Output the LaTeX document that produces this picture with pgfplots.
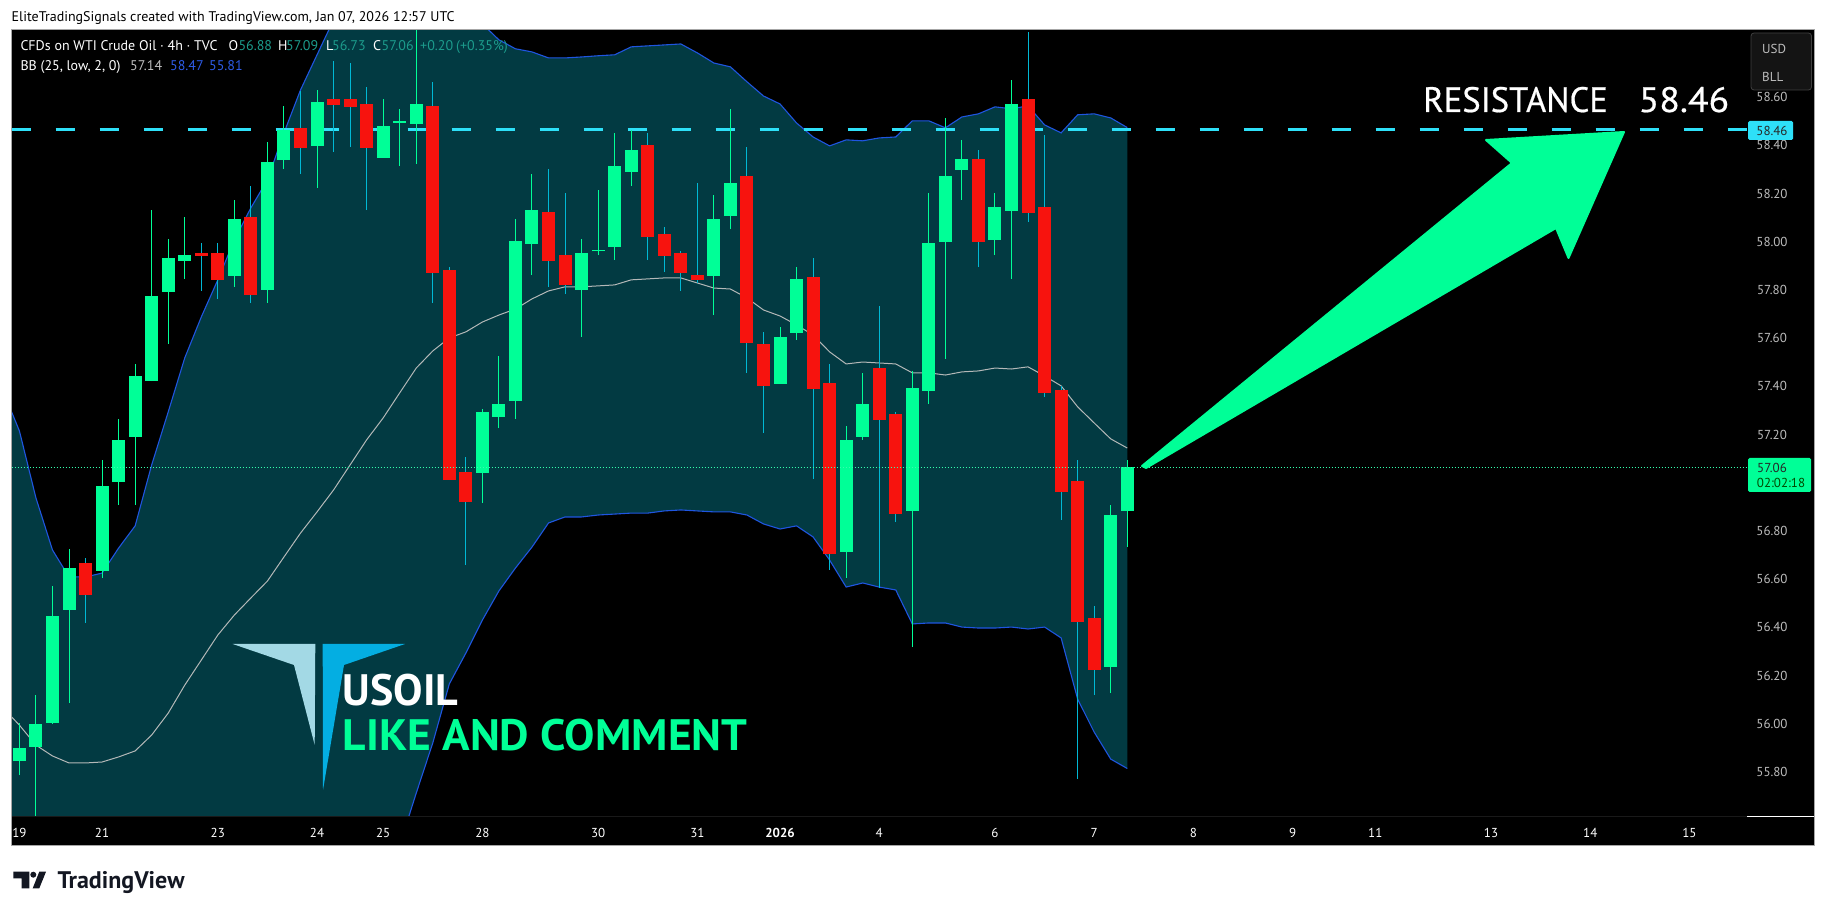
\documentclass[border=0pt]{standalone}
\usepackage{pgfplots}
\usepackage{pgfplotstable}
\usepackage{fontspec}
\pgfplotsset{compat=1.18}
\setmainfont{PT Sans}
\newfontfamily\medf[FakeBold=0.6]{PT Sans}
\newcommand\fs[1]{\fontsize{#1}{#1}\selectfont}
\definecolor{tvgreen}{HTML}{00FF97}
\definecolor{tvred}{HTML}{F7130E}
\definecolor{wickred}{HTML}{00B8D4}
\definecolor{bandfill}{HTML}{023A42}
\definecolor{bandline}{HTML}{1F55E0}
\definecolor{midline}{HTML}{B4B8B8}
\definecolor{rescyan}{HTML}{2EE0F8}
\definecolor{ticktext}{HTML}{BDBDBD}
\definecolor{legteal}{HTML}{1C9C8C}
\definecolor{legblue}{HTML}{2E5CE8}
\definecolor{logolight}{HTML}{A3D9E5}
\definecolor{logodark}{HTML}{04AEE2}
\definecolor{tvink}{HTML}{131722}
\pgfplotstableread{
i o h l c
0 55.841 55.999 55.783 55.895
1 55.899 56.115 55.613 55.995
2 55.999 56.567 55.995 56.443
3 56.468 56.721 56.082 56.642
5 56.630 57.090 56.601 56.983
6 56.999 57.261 56.904 57.174
7 57.186 57.489 56.904 57.439
8 57.418 58.128 57.418 57.771
9 57.788 58.008 57.572 57.929
10 57.917 58.099 57.842 57.941
13 57.854 58.170 57.809 58.091
15 57.796 58.411 57.742 58.328
16 58.336 58.560 58.298 58.460
18 58.394 58.626 58.220 58.577
22 58.344 58.589 58.344 58.477
23 58.491 58.548 58.311 58.498
24 58.485 58.875 58.319 58.568
28 57.037 57.302 56.912 57.290
29 57.269 57.522 57.223 57.323
30 57.335 58.091 57.261 58.000
31 57.987 58.278 57.858 58.128
34 57.796 58.008 57.601 57.950
35 57.956 58.211 57.941 57.960
36 57.975 58.448 57.921 58.311
37 58.286 58.460 58.228 58.377
42 57.854 58.191 57.692 58.091
43 58.103 58.548 58.049 58.240
46 57.406 57.643 57.406 57.601
47 57.618 57.892 57.589 57.842
50 56.709 57.232 56.601 57.174
51 57.186 57.452 57.174 57.323
54 56.879 57.460 56.314 57.389
55 57.377 58.199 57.323 57.991
56 57.995 58.510 57.510 58.269
57 58.294 58.419 58.170 58.340
59 58.004 58.199 57.941 58.141
60 58.124 58.668 57.842 58.568
66 56.231 56.904 56.123 56.862
67 56.88 57.09 56.73 57.06
}\greenT
\pgfplotstableread{
i o h l c
4 56.663 56.684 56.414 56.530
11 57.950 57.991 57.792 57.937
12 57.950 57.991 57.759 57.838
14 58.099 58.228 57.742 57.775
17 58.469 58.622 58.278 58.386
19 58.589 58.747 58.369 58.564
20 58.589 58.738 58.390 58.556
21 58.568 58.639 58.128 58.386
25 58.560 58.660 57.742 57.867
26 57.879 57.892 57.007 57.007
27 57.041 57.103 56.655 56.916
32 58.120 58.298 57.809 57.917
33 57.941 58.199 57.780 57.817
38 58.398 58.448 57.921 58.016
39 58.029 58.058 57.871 57.937
40 57.950 57.958 57.792 57.867
41 57.858 58.240 57.825 57.838
44 58.269 58.390 57.452 57.576
45 57.572 57.622 57.203 57.398
48 57.850 57.929 57.012 57.385
49 57.410 57.489 56.634 56.700
52 57.472 57.730 56.559 57.257
53 57.281 57.290 56.833 56.866
58 58.340 58.377 57.892 57.995
61 58.589 58.867 58.078 58.116
62 58.141 58.440 57.352 57.369
63 57.381 57.398 56.841 56.958
64 57.003 57.090 55.766 56.418
65 56.435 56.484 56.115 56.219
}\redT
\pgfplotstableread{
i u m d
-0.47 57.290 56.024 54.683
0 57.211 55.990 54.766
1 56.933 55.907 54.890
2 56.717 55.862 55.015
3 56.605 55.833 55.056
4 56.605 55.833 55.056
5 56.621 55.837 55.056
6 56.725 55.858 54.994
7 56.817 55.883 54.953
8 57.070 55.949 54.828
9 57.290 56.040 54.787
10 57.514 56.156 54.800
11 57.684 56.260 54.828
12 57.838 56.364 54.890
13 58.004 56.447 54.890
14 58.137 56.518 54.890
15 58.253 56.588 54.911
16 58.448 56.688 54.932
17 58.626 56.787 54.953
18 58.772 56.875 54.973
19 58.917 56.966 55.015
20 58.979 57.070 55.139
21 59.021 57.174 55.264
22 59.040 57.265 55.389
23 59.040 57.369 55.492
24 59.030 57.472 55.708
25 59.010 57.543 55.916
26 58.980 57.597 56.161
27 58.940 57.622 56.289
28 58.900 57.663 56.426
29 58.834 57.692 56.547
30 58.797 57.717 56.642
31 58.784 57.759 56.729
32 58.759 57.792 56.829
33 58.759 57.809 56.854
34 58.763 57.809 56.854
35 58.768 57.813 56.862
36 58.772 57.817 56.866
37 58.805 57.838 56.870
38 58.809 57.842 56.870
39 58.813 57.846 56.879
40 58.817 57.846 56.883
41 58.780 57.825 56.879
42 58.738 57.804 56.875
43 58.722 57.800 56.875
44 58.660 57.763 56.862
45 58.601 57.713 56.825
46 58.568 57.688 56.804
47 58.489 57.651 56.817
48 58.431 57.609 56.771
49 58.394 57.539 56.675
50 58.419 57.489 56.563
51 58.415 57.497 56.580
52 58.427 57.493 56.563
53 58.431 57.489 56.551
54 58.498 57.452 56.410
55 58.498 57.452 56.414
56 58.469 57.443 56.414
57 58.514 57.456 56.397
58 58.527 57.460 56.393
59 58.556 57.472 56.393
60 58.548 57.468 56.397
61 58.560 57.477 56.389
62 58.481 57.439 56.397
63 58.448 57.398 56.352
64 58.523 57.311 56.098
65 58.527 57.244 55.961
66 58.510 57.178 55.849
67 58.47 57.14 55.81
}\bandT
% outline of the band, upper edge then lower edge back
\pgfplotstableread{
x y
-0.47 57.290
0 57.211
1 56.933
2 56.717
3 56.605
4 56.605
5 56.621
6 56.725
7 56.817
8 57.070
9 57.290
10 57.514
11 57.684
12 57.838
13 58.004
14 58.137
15 58.253
16 58.448
17 58.626
18 58.772
19 58.917
20 58.979
21 59.021
22 59.040
23 59.040
24 59.030
25 59.010
26 58.980
27 58.940
28 58.900
29 58.834
30 58.797
31 58.784
32 58.759
33 58.759
34 58.763
35 58.768
36 58.772
37 58.805
38 58.809
39 58.813
40 58.817
41 58.780
42 58.738
43 58.722
44 58.660
45 58.601
46 58.568
47 58.489
48 58.431
49 58.394
50 58.419
51 58.415
52 58.427
53 58.431
54 58.498
55 58.498
56 58.469
57 58.514
58 58.527
59 58.556
60 58.548
61 58.560
62 58.481
63 58.448
64 58.523
65 58.527
66 58.510
67 58.47
67 55.81
66 55.849
65 55.961
64 56.098
63 56.352
62 56.397
61 56.389
60 56.397
59 56.393
58 56.393
57 56.397
56 56.414
55 56.414
54 56.410
53 56.551
52 56.563
51 56.580
50 56.563
49 56.675
48 56.771
47 56.817
46 56.804
45 56.825
44 56.862
43 56.875
42 56.875
41 56.879
40 56.883
39 56.879
38 56.870
37 56.870
36 56.866
35 56.862
34 56.854
33 56.854
32 56.829
31 56.729
30 56.642
29 56.547
28 56.426
27 56.289
26 56.161
25 55.916
24 55.708
23 55.492
22 55.389
21 55.264
20 55.139
19 55.015
18 54.973
17 54.953
16 54.932
15 54.911
14 54.890
13 54.890
12 54.890
11 54.828
10 54.800
9 54.787
8 54.828
7 54.953
6 54.994
5 55.056
4 55.056
3 55.056
2 55.015
1 54.890
0 54.766
-0.47 54.683
}\outlineT
\begin{document}
\begin{tikzpicture}
\path[use as bounding box,fill=white] (0,0) rectangle (1826pt,913pt);
\begin{scope}[x=1pt,y=-1pt,yshift=913pt]
\fill[black] (11.7,30) rectangle (1814.7,846);
\end{scope}
\begin{axis}[
  at={(11.7pt,96.3pt)},anchor=south west,
  scale only axis,width=1735.3pt,height=786.7pt,
  xmin=-0.466,xmax=104.48,ymin=55.61,ymax=58.875,
  axis background/.style={fill=black},
  axis line style={draw=none},
  major tick length=0pt,
  ytick={55.8,56,56.2,56.4,56.6,56.8,57.2,57.4,57.6,57.8,58,58.2,58.4,58.6},
  yticklabel pos=right,
  yticklabel style={anchor=center,xshift=25pt,yshift=-1pt,text=ticktext,font=\fs{13},
    /pgf/number format/.cd,fixed,fixed zerofill,precision=2,assume math mode=true},
  xtick={0,5,12,18,22,28,35,41,46,52,59,65,71,77,82,89,95,101},
  xticklabels={19,21,23,24,25,28,30,31,\textbf{2026},4,6,7,8,9,11,13,14,15},
  xticklabel style={anchor=center,yshift=-16pt,text=white,font=\fs{13}},
  scaled ticks=false,
]
\addplot[draw=none,fill=bandfill,forget plot] table[x=x,y=y]{\outlineT} --cycle;
\addplot[midline,line width=1pt,forget plot] table[x=i,y=m]{\bandT};
\addplot[bandline,line width=1.1pt,forget plot] table[x=i,y=u]{\bandT};
\addplot[bandline,line width=1.1pt,forget plot] table[x=i,y=d]{\bandT};
\addplot[rescyan,line width=3pt,dash pattern=on 19.5pt off 24.5pt,forget plot] coordinates {(-0.466,58.46)(104.48,58.46)};
% wicks
\addplot[draw=none,forget plot,error bars/.cd,y dir=plus,y explicit,error mark=none,
  error bar style={draw=tvgreen,line width=1pt,solid}]
  table[x=i,y=l,y error plus expr=\thisrow{h}-\thisrow{l}]{\greenT};
\addplot[draw=none,forget plot,error bars/.cd,y dir=plus,y explicit,error mark=none,
  error bar style={draw=wickred,line width=1pt,solid}]
  table[x=i,y=l,y error plus expr=\thisrow{h}-\thisrow{l}]{\redT};
% bodies
\addplot[draw=none,forget plot,error bars/.cd,y dir=plus,y explicit,error mark=none,
  error bar style={draw=tvgreen,line width=13pt,solid}]
  table[x=i,y=o,y error plus expr=\thisrow{c}-\thisrow{o}]{\greenT};
\addplot[draw=none,forget plot,error bars/.cd,y dir=plus,y explicit,error mark=none,
  error bar style={draw=tvred,line width=13pt,solid}]
  table[x=i,y=c,y error plus expr=\thisrow{o}-\thisrow{c}]{\redT};
\addplot[tvgreen!80!white,line width=0.8pt,dash pattern=on 1pt off 2pt,forget plot] coordinates {(-0.466,57.06)(104.48,57.06)};
\end{axis}
\begin{scope}[x=1pt,y=-1pt,yshift=913pt]
% frame
\draw[color=black!8!black,line width=0.8pt] (1747,30)--(1747,846);
\draw[color=white!10!black,line width=0.8pt] (11.7,816.7)--(1747,816.7);
\draw[white,line width=1pt] (1747,816.3)--(1814.7,816.3);
\draw[color=black!35,line width=1pt] (11.7,30) rectangle (1814.7,846);
% arrow
\fill[tvgreen,draw=tvgreen,line width=2pt,line join=round]
  (1142,466)--(1512,163)--(1486,140)--(1624,132)--(1568.5,258)--(1556,228)--(1146,468)--cycle;
% logo
\fill[logolight] (232.7,644)--(315.3,644)--(314.7,745)--(294,665)--cycle;
\fill[logodark] (322.7,644)--(405,644)--(344,665)--(323,790)--cycle;
% big text
\node[anchor=base west,inner sep=0,text=white] at (1423,112) {\medf\fs{35.3}\scalebox{0.98}[1]{RESISTANCE}};
\node[anchor=base west,inner sep=0,text=white] at (1638.5,112) {\medf\fs{35.3}\scalebox{1.07}[1]{58.46}};
\node[anchor=base west,inner sep=0,text=white] at (342.7,705.7) {\fs{44}\bfseries USOIL};
\node[anchor=base west,inner sep=0,text=tvgreen] at (342.7,750.7) {\fs{44}\bfseries\scalebox{1.033}[1]{LIKE AND COMMENT}};
% header
\node[anchor=base west,inner sep=0,text=black] at (11.5,21.3) {\fs{14}EliteTradingSignals created with TradingView.com, Jan 07, 2026 12:57 UTC};
\node[anchor=base west,inner sep=0,text=white] at (20.3,51) {\fs{14}CFDs on WTI Crude Oil · 4h · TVC};
\node[anchor=base west,inner sep=0,text=white] at (228.5,51) {\fs{14}O};
\node[anchor=base west,inner sep=0,text=legteal] at (238.4,51) {\fs{14}56.88};
\node[anchor=base west,inner sep=0,text=white] at (277.8,51) {\fs{14}H};
\node[anchor=base west,inner sep=0,text=legteal] at (286,51) {\fs{14}57.09};
\node[anchor=base west,inner sep=0,text=white] at (326,51) {\fs{14}L};
\node[anchor=base west,inner sep=0,text=legteal] at (332,51) {\fs{14}56.73};
\node[anchor=base west,inner sep=0,text=white] at (373,51) {\fs{14}C};
\node[anchor=base west,inner sep=0,text=legteal] at (381.5,51) {\fs{14}57.06};
\node[anchor=base west,inner sep=0,text=legteal] at (420,51) {\fs{14}+0.20};
\node[anchor=base west,inner sep=0,text=legteal] at (456,51) {\fs{14}(+0.35\%)};
\node[anchor=base west,inner sep=0,text=white] at (20.3,70.5) {\fs{14}BB (25, low, 2, 0)};
\node[anchor=base west,inner sep=0,text=ticktext] at (130,70.5) {\fs{14}57.14};
\node[anchor=base west,inner sep=0,text=legblue] at (170,70.5) {\fs{14}58.47};
\node[anchor=base west,inner sep=0,text=legblue] at (209,70.5) {\fs{14}55.81};
% currency box
\fill[color=black!92!white,draw=black!75!white,line width=0.8pt,rounded corners=3pt] (1751,33) rectangle (1811.5,90);
\node[anchor=west,inner sep=0,text=ticktext] at (1762,48.7) {\fs{13}USD};
\node[anchor=west,inner sep=0,text=ticktext] at (1762,76.7) {\fs{13}BLL};
% price tags
\fill[color=rescyan,rounded corners=1.5pt] (1748,121) rectangle (1793,140);
\node[anchor=center,inner sep=0,text=black!85] at (1772,130.5) {\fs{13}58.46};
\fill[color=tvgreen,rounded corners=1.5pt] (1748,458) rectangle (1811,492);
\node[anchor=center,inner sep=0,text=black!85] at (1772,467.7) {\fs{13}57.06};
\node[anchor=center,inner sep=0,text=green!30!black] at (1781,482.7) {\fs{13}02:02:18};
% TradingView logo
\fill[tvink] (13.3,871.7)--(29.3,871.7)--(29.3,888.3)--(21.7,888.3)--(21.7,878.3)--(13.3,878.3)--cycle;
\fill[tvink] (33.3,874.7) circle (3);
\fill[tvink] (39.3,871.7)--(46,871.7)--(39.3,888.3)--(32.7,888.3)--cycle;
\node[anchor=base west,inner sep=0,text=tvink] at (57.3,888.3) {\fs{24}\bfseries TradingView};
\end{scope}
\end{tikzpicture}
\end{document}
